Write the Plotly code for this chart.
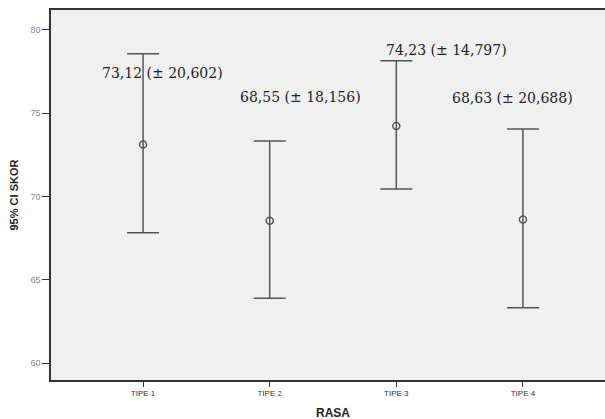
import plotly.graph_objects as go

categories = ["TIPE 1", "TIPE 2", "TIPE 3", "TIPE 4"]
means = [73.12, 68.55, 74.23, 68.63]
sds = [20.602, 18.156, 14.797, 20.688]
ci_upper = [78.57, 73.33, 78.15, 74.05]
ci_lower = [67.83, 63.90, 70.45, 63.33]
label_x = [0.156, 1.243, 2.40, 2.92]
label_y = [77.42, 75.98, 78.8, 75.92]
y_ticks = [60, 65, 70, 75, 80]

def fmt(v, d):
    return f"{v:.{d}f}".replace(".", ",")

err_plus = [u - m for u, m in zip(ci_upper, means)]
err_minus = [m - l for m, l in zip(means, ci_lower)]

fig = go.Figure()
fig.add_trace(go.Scatter(
    x=categories, y=means, mode="markers",
    marker=dict(symbol="circle-open", size=7, color="#555555", line=dict(width=1.5)),
    error_y=dict(type="data", symmetric=False, array=err_plus, arrayminus=err_minus,
                 width=16, thickness=1.5, color="#555555"),
    showlegend=False, hoverinfo="skip",
))

for i in range(len(categories)):
    fig.add_annotation(
        x=label_x[i], y=label_y[i], xref="x", yref="y",
        text=f"{fmt(means[i], 2)} (± {fmt(sds[i], 3)})",
        showarrow=False, xanchor="center", yanchor="middle",
        font=dict(family="DejaVu Serif", size=14, color="#222222"),
    )
fig.add_annotation(
    x=0, y=0.5, xref="paper", yref="paper", xshift=-(50.5 - 13),
    text="<b>95% CI SKOR</b>", textangle=-90, showarrow=False,
    xanchor="center", yanchor="middle",
    font=dict(family="Arial", size=11, color="#222222"),
)
fig.add_annotation(
    x=0.5, y=0, xref="paper", yref="paper", yshift=-33,
    text="<b>RASA</b>", showarrow=False, xanchor="center", yanchor="middle",
    font=dict(family="Arial", size=12, color="#222222"),
)

# the original chart is cropped on the right: the frame continues past the window edge
fig.update_layout(
    width=620, height=419,
    margin=dict(l=50.5, r=4.5, t=10, b=39),
    paper_bgcolor="white", plot_bgcolor="#f0f0f0",
    xaxis=dict(
        type="category", range=[-0.727, 3.727],
        showgrid=False, zeroline=False,
        showline=True, linecolor="#333333", linewidth=1.5, mirror=True,
        ticks="outside", ticklen=5, tickcolor="#333333", tickwidth=1,
        tickfont=dict(family="Arial", size=8, color="#333333"),
    ),
    yaxis=dict(
        range=[58.99, 81.2], tickvals=y_ticks,
        showgrid=False, zeroline=False,
        showline=True, linecolor="#333333", linewidth=1.5,
        ticks="outside", ticklen=7, tickcolor="#333333", tickwidth=1,
        tickfont=dict(family="Arial", size=9, color="#888888"),
    ),
)

fig.write_html(
    "out.html", config={"displayModeBar": False},
    post_script=("document.documentElement.style.overflow='hidden';"
                 "document.body.style.margin='0';document.body.style.overflow='hidden';"),
)
